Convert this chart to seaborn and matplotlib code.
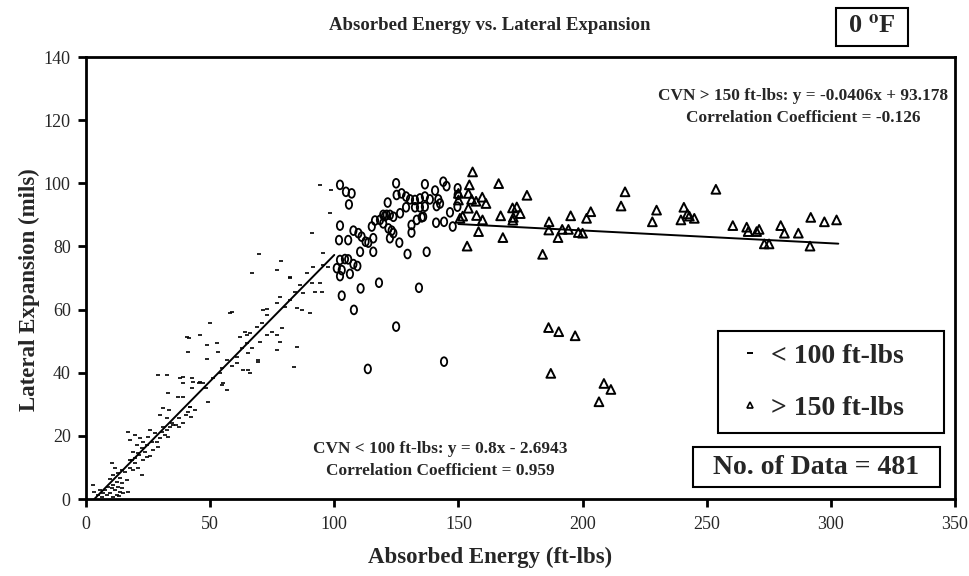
import numpy as np
import pandas as pd
import seaborn as sns
import matplotlib
matplotlib.use("Agg")
import matplotlib.pyplot as plt
from matplotlib.path import Path
from matplotlib.transforms import Affine2D
from matplotlib.lines import Line2D
from matplotlib.patches import Rectangle

# ---- data: Charpy absorbed energy (ft-lbs) vs lateral expansion (mils) at 0 F ----
low_energy = [3.2, 5.0, 5.6, 7.0, 7.6, 9.0, 9.7, 10.3, 11.0, 11.7, 12.4, 13.0, 13.7, 14.4, 15.0, 17.0, 2.9, 6.3, 8.3, 11.0, 13.4,
              10.4, 11.7, 11.0, 13.0, 13.7, 14.4, 15.7, 16.4, 17.7, 18.4, 19.0, 19.7, 21.1, 22.4, 14.4, 12.4, 9.7,
              17.0, 17.7, 19.1, 19.7, 20.4, 21.1, 21.7, 22.4, 23.1, 23.8, 24.4, 25.1, 25.8, 26.5, 27.1, 27.8, 28.5, 29.1,
              29.8, 30.5, 31.1, 31.8, 32.5, 33.2, 33.8, 35.2, 17.7, 19.7, 21.5, 24.4, 23.1, 25.8,
              29.8, 31.1, 32.5, 33.6, 34.7, 36.3, 37.6, 39.0, 40.4, 41.0, 41.7, 42.4, 39.0, 37.0, 33.2, 39.0, 43.0, 45.7,
              48.5, 49.1, 43.9, 37.6,
              42.6, 45.9, 51.3, 54.0, 54.7, 56.7, 55.3, 42.6, 39.2, 29.1, 37.9, 47.3, 58.7, 60.7, 60.7, 65.4, 66.0, 63.4,
              65.4, 62.7, 64.7, 66.7, 69.4, 70.1, 72.8, 74.8, 76.8, 78.8, 76.8, 78.1, 84.9, 83.8, 68.7, 70.8, 72.8, 71.4,
              76.8, 80.1, 82.2, 84.9, 86.9, 90.2, 84.2, 87.5, 88.9, 90.9, 94.2, 94.9, 92.2, 86.2, 82.2, 76.8, 66.7, 78.1,
              58.7, 49.9, 45.9, 40.6, 48.6, 52.6, 53.3, 41.2, 48.6, 56.7, 54.7, 62.0, 64.0, 66.0, 91.6, 95.6, 94.2, 98.7,
              98.3, 90.9, 95.6, 69.7, 78.5, 82.2, 97.6, 72.8, 58.0, 41.5, 32.5, 41.9, 64.7, 69.4]
low_expansion = [2.3, 1.3, 2.9, 1.8, 2.9, 3.9, 1.8, 3.4, 4.4, 2.9, 1.3, 3.9, 2.3, 3.4, 1.8, 2.3, 4.4, 0.7, 1.3, 0.7, 1.0,
                 11.5, 9.7, 7.6, 8.1, 6.6, 9.2, 8.6, 6.0, 9.7, 12.4, 9.2, 11.3, 9.7, 7.6, 5.0, 5.5, 6.2,
                 21.3, 18.7, 15.0, 20.3, 17.1, 14.5, 19.2, 16.1, 18.1, 15.0, 17.1, 19.7, 21.7, 18.1, 15.5, 20.8, 18.1, 16.5,
                 19.2, 21.3, 22.9, 20.3, 21.7, 19.7, 22.9, 23.4, 12.4, 12.9, 13.9, 13.4, 12.4, 13.7,
                 26.6, 28.7, 25.6, 28.2, 24.0, 23.4, 25.6, 24.0, 26.6, 27.6, 29.2, 26.1, 32.4, 32.4, 33.5, 36.6, 37.1, 36.6,
                 35.1, 30.8, 28.2, 22.9,
                 35.1, 37.2, 38.2, 39.8, 36.1, 34.5, 36.6, 38.2, 38.7, 39.3, 38.2, 36.6, 42.1, 43.0, 45.1, 40.9, 39.8, 40.9,
                 46.2, 47.7, 49.3, 47.7, 43.5, 49.8, 51.9, 53.0, 51.9, 54.1, 47.2, 49.8, 48.2, 41.9, 54.6, 55.7, 58.3, 59.9,
                 62.0, 60.9, 63.0, 60.4, 59.9, 58.8, 65.7, 65.2, 71.5, 68.3, 68.3, 65.7, 65.7, 67.8, 69.9, 72.5, 71.5, 64.1,
                 59.3, 55.7, 51.9, 51.4, 48.8, 49.3, 46.7, 46.7, 44.3, 44.0, 41.4, 51.4, 53.0, 52.5, 73.6, 74.1, 99.5, 97.9,
                 90.7, 84.4, 77.8, 77.5, 75.5, 70.2, 73.6, 60.1, 58.8, 51.0, 39.3, 29.2, 51.9, 44.0]

mid_energy = [102.3, 104.7, 107.0, 105.9, 102.3, 101.9, 105.6, 107.7, 109.7, 111.0, 112.6, 113.7, 115.7, 110.4, 115.7,
              102.3, 104.3, 105.6, 101.0, 103.0, 102.3, 106.3, 107.7, 109.3, 110.6, 118.0, 103.0, 107.9, 124.9, 134.1,
              113.5, 144.2, 129.5, 137.2, 124.9, 136.5, 140.6, 143.9, 145.2, 121.5, 125.1, 127.1, 128.9, 130.5, 132.5,
              134.5, 136.5, 138.5, 141.9, 142.6, 128.9, 132.5, 134.5, 136.5, 141.2, 126.5, 120.4, 118.4, 116.4, 122.4,
              123.8, 115.1, 119.7, 121.8, 123.1, 123.8, 122.4, 126.2, 131.1, 131.1, 133.2, 135.2, 141.0, 144.2, 147.7,
              146.6, 149.7, 149.7, 149.6, 119.7, 121.1, 135.8]
mid_expansion = [99.5, 97.3, 96.8, 93.3, 86.6, 82.0, 82.0, 85.0, 84.2, 83.1, 81.5, 81.2, 82.6, 78.3, 78.3,
                 75.7, 76.0, 75.9, 73.1, 72.5, 70.6, 71.3, 74.4, 73.8, 66.7, 68.5, 64.4, 59.9, 54.6, 66.9,
                 41.2, 43.5, 77.6, 78.3, 100.0, 99.7, 97.7, 100.5, 99.1, 93.9, 96.3, 96.8, 95.8, 94.9, 94.7,
                 95.2, 95.8, 94.9, 94.9, 93.6, 92.4, 92.4, 92.4, 92.6, 92.8, 90.5, 89.6, 88.4, 88.2, 90.0,
                 89.4, 86.3, 87.3, 85.7, 85.0, 84.2, 82.6, 81.2, 86.8, 84.4, 88.4, 89.2, 87.5, 87.8, 86.3,
                 90.8, 98.4, 96.3, 92.6, 90.0, 90.0, 89.4]

high_energy = [150.0, 150.0, 150.6, 151.7, 153.5, 154.0, 154.4, 155.7, 154.0, 155.3, 157.1, 158.1, 157.3, 159.7, 159.6,
               161.1, 166.2, 167.0, 167.9, 171.8, 173.5, 171.9, 172.1, 174.9, 177.6, 183.9, 186.5, 186.4, 190.1, 191.8,
               194.3, 195.2, 198.3, 200.0, 201.6, 203.3, 215.5, 217.1, 228.1, 229.8, 239.6, 240.8, 242.2, 243.0, 245.0,
               253.7, 260.5, 266.1, 266.7, 270.1, 271.1, 273.2, 275.1, 279.8, 281.3, 286.9, 291.9, 291.6, 297.4, 302.3,
               186.3, 190.4, 197.0, 187.2, 208.6, 211.4, 206.6]
high_expansion = [96.8, 94.7, 88.9, 89.6, 80.1, 92.1, 99.5, 103.6, 96.8, 94.9, 94.3, 84.7, 89.8, 88.4, 95.6,
                  93.6, 99.9, 89.7, 82.8, 92.2, 92.5, 88.3, 89.2, 90.4, 96.2, 77.5, 87.8, 85.2, 82.8, 85.4,
                  85.4, 89.7, 84.4, 84.2, 88.9, 91.0, 92.8, 97.3, 87.8, 91.5, 88.4, 92.4, 90.3, 89.6, 88.9,
                  98.1, 86.6, 86.1, 84.7, 84.7, 85.4, 80.8, 80.8, 86.6, 84.2, 84.2, 89.2, 80.1, 87.8, 88.4,
                  54.3, 53.0, 51.7, 39.8, 36.6, 34.7, 30.8]

# linear fits reported for the two groups
low_slope, low_intercept, low_r = 0.8, -2.6943, 0.959
high_slope, high_intercept, high_r = -0.0406, 93.178, -0.126
low_fit_range = [3.37, 100.0]
high_fit_range = [150.0, 303.0]

x_ticks = [0, 50, 100, 150, 200, 250, 300, 350]
y_ticks = [0, 20, 40, 60, 80, 100, 120, 140]
n_data = 481

# ---- styling ----
sns.set_style("white")
plt.rcParams["font.family"] = ["Liberation Serif", "DejaVu Serif"]
plt.rcParams["mathtext.fontset"] = "stix"

W, H = 969, 576
fig = plt.figure(figsize=(W / 100, H / 100), dpi=100)
ax = fig.add_axes([86 / W, 1 - 499 / H, 869 / W, 442 / H])

low_df = pd.DataFrame({"energy": low_energy, "expansion": low_expansion})
mid_df = pd.DataFrame({"energy": mid_energy, "expansion": mid_expansion})
high_df = pd.DataFrame({"energy": high_energy, "expansion": high_expansion})

ellipse = Path.unit_circle().transformed(Affine2D().scale(0.72, 1.0))

sns.scatterplot(data=low_df, x="energy", y="expansion", ax=ax, marker="_",
                s=10, color="black", linewidth=1.2, legend=False)
sns.scatterplot(data=mid_df, x="energy", y="expansion", ax=ax, marker=ellipse,
                s=40, facecolor="none", edgecolor="black", linewidth=1.3, legend=False)
sns.scatterplot(data=high_df, x="energy", y="expansion", ax=ax, marker="^",
                s=40, facecolor="none", edgecolor="black", linewidth=1.4, legend=False)

# regression lines
lx = np.array(low_fit_range)
hx = np.array(high_fit_range)
sns.lineplot(x=lx, y=low_slope * lx + low_intercept, ax=ax, color="black", linewidth=1.4)
sns.lineplot(x=hx, y=high_slope * hx + high_intercept, ax=ax, color="black", linewidth=1.4)

ax.set_xlim(0, 350)
ax.set_ylim(0, 140)
ax.set_xticks(x_ticks)
ax.set_yticks(y_ticks)
ax.tick_params(axis="both", direction="out", length=6, width=2, labelsize=13, color="black",
               bottom=True, left=True)
ax.tick_params(axis="x", pad=6)
ax.tick_params(axis="y", pad=5)
for side in ax.spines.values():
    side.set_color("black")
    side.set_linewidth(2)

ax.set_xlabel("Absorbed Energy (ft-lbs)", fontsize=16.5, fontweight="bold")
ax.set_ylabel("Lateral Expansion (mils)", fontsize=16.5, fontweight="bold")
ax.xaxis.set_label_coords((490 - 86) / 869, -0.109)
ax.yaxis.set_label_coords(-0.053, (499 - 290) / 442)

fig.text(490 / W, 1 - 25 / H, "Absorbed Energy vs. Lateral Expansion",
         ha="center", va="center", fontsize=13.5, fontweight="bold")

# temperature tag in the top-right corner
fig.patches.append(Rectangle((836 / W, 1 - 46 / H), 72 / W, 38 / H, transform=fig.transFigure,
                             facecolor="white", edgecolor="black", linewidth=1.5))
fig.text(872 / W, 1 - 27 / H, "0 $^{\\mathbf{o}}$F", ha="center", va="center",
         fontsize=19, fontweight="bold")

ax.text(289, 124.3, f"CVN > 150 ft-lbs: y = {high_slope}x + {high_intercept}\nCorrelation Coefficient = {high_r}",
        ha="center", va="center", fontsize=12.4, fontweight="bold", linespacing=1.5)
ax.text(142.6, 12.5, f"CVN < 100 ft-lbs: y = {low_slope}x - {abs(low_intercept)}\nCorrelation Coefficient = {low_r}",
        ha="center", va="center", fontsize=12.4, fontweight="bold", linespacing=1.5)

# sample-count box
ax.add_patch(Rectangle(((693 - 86) / 869, (499 - 487) / 442), (940 - 693) / 869, 40 / 442,
                       transform=ax.transAxes, facecolor="white", edgecolor="black",
                       linewidth=1.5, zorder=4))
ax.text((816 - 86) / 869, (499 - 467) / 442, f"No. of Data = {n_data}", transform=ax.transAxes,
        ha="center", va="center", fontsize=20, fontweight="bold", zorder=5)

handles = [
    Line2D([], [], linestyle="none", marker="_", color="black", markersize=4, markeredgewidth=1.4),
    Line2D([], [], linestyle="none", marker="^", markerfacecolor="none", markeredgecolor="black",
           markersize=5, markeredgewidth=1.2),
]
leg_x0 = (718 - 86) / 869
leg_y1 = (499 - 331) / 442
leg_w = (944 - 718) / 869
leg = ax.legend(handles, ["< 100 ft-lbs", "> 150 ft-lbs"], loc="upper left",
                bbox_to_anchor=(leg_x0, leg_y1 - 0.3, leg_w, 0.3), mode="expand",
                prop={"family": "Liberation Serif", "weight": "bold", "size": 20},
                frameon=True, fancybox=False, edgecolor="black", framealpha=1,
                borderpad=0.45, labelspacing=0.95, handlelength=1.4, handletextpad=0.05,
                borderaxespad=0)
leg.get_frame().set_linewidth(1.5)

fig.savefig("out.png", dpi=100)
